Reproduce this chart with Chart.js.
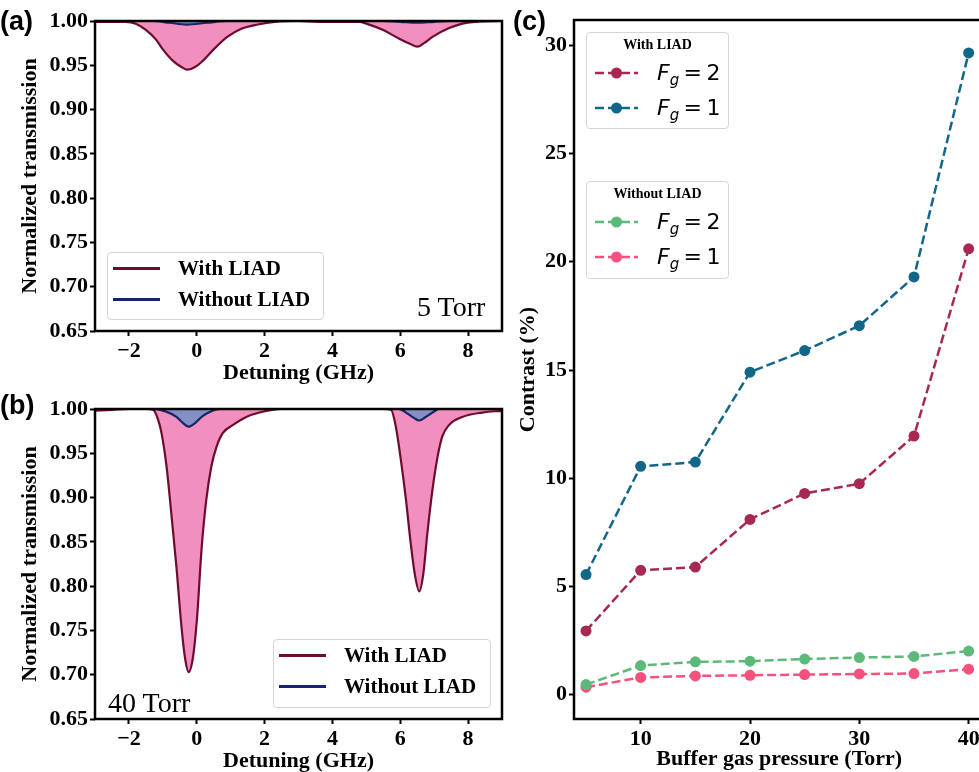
<!DOCTYPE html>
<html>
<head>
<meta charset="utf-8">
<script src="https://cdn.jsdelivr.net/npm/chart.js@4.4.1/dist/chart.umd.min.js"></script>
<style>
html, body { margin: 0; padding: 0; background: #fff; width: 979px; height: 772px; overflow: hidden; position: relative; }
canvas { position: absolute; }
.lab { position: absolute; font-family: "Liberation Sans", Arial, sans-serif; font-weight: bold; font-size: 27px; line-height: 27px; }
.note { position: absolute; font-family: "Liberation Serif", "Times New Roman", serif; font-size: 28px; line-height: 28px; }
.leg { position: absolute; box-sizing: border-box; background: rgba(255,255,255,0.85); border: 1px solid #d6d6d6; border-radius: 4px;
       font-family: "Liberation Serif", "Times New Roman", serif; font-weight: bold; }
.leg .row { display: flex; align-items: center; height: 31px; font-size: 21px; white-space: nowrap; }
.leg .sw { display: inline-block; width: 47px; height: 3px; margin-left: 5px; margin-right: 18px; }
.leg .ttl { text-align: center; font-size: 14px; height: 20px; line-height: 20px; margin-top: 2px; }
.leg .mrow { display: flex; align-items: center; height: 35px; white-space: nowrap; }
.leg .mrow svg { margin-left: 8px; margin-right: 19px; }
.math { font-family: "DejaVu Sans", sans-serif; font-weight: normal; font-size: 22px; }
.math sub { font-size: 15px; vertical-align: -5px; line-height: 0; }
</style>
</head>
<body>
<canvas id="ca" width="512" height="387" style="left:0;top:0"></canvas>
<canvas id="cb" width="512" height="387" style="left:0;top:388px"></canvas>
<canvas id="cc" width="485" height="773" style="left:505px;top:0"></canvas>

<div class="lab" style="left:0;top:8px">(a)</div>
<div class="lab" style="left:0;top:392px">(b)</div>
<div class="lab" style="left:513px;top:8px">(c)</div>
<div class="note" style="left:417px;top:293px">5 Torr</div>
<div class="note" style="left:108px;top:689px">40 Torr</div>

<div id="lega" class="leg" style="left:107px;top:252px;width:217px;height:68px"></div>
<div id="legb" class="leg" style="left:273px;top:639px;width:218px;height:69px"></div>
<div id="legc1" class="leg" style="left:586px;top:32px;width:143px;height:97px"></div>
<div id="legc2" class="leg" style="left:586px;top:181px;width:143px;height:98px"></div>

<script>
// ---- data: panel (a), 5 Torr ----
const xWith5 = [-3.0, -2.5, -2.1, -1.8, -1.5, -1.2, -1.0, -0.7, -0.45, -0.27, -0.05, 0.15, 0.5, 0.9, 1.3, 1.8, 2.3, 3.0, 3.6, 4.3, 4.8, 5.0, 5.48, 5.97, 6.3, 6.5, 6.7, 6.95, 7.44, 7.83, 8.2, 9.0];
const yWith5 = [0.999, 0.999, 0.999, 0.997, 0.990, 0.979, 0.968, 0.955, 0.948, 0.945, 0.948, 0.954, 0.968, 0.982, 0.991, 0.996, 0.999, 1.000, 0.999, 0.999, 0.999, 0.997, 0.990, 0.980, 0.974, 0.971, 0.975, 0.982, 0.992, 0.997, 0.999, 1.000];
const xWithout5 = [-3.0, -1.3, -0.8, -0.3, 0.3, 0.9, 5.5, 6.0, 6.5, 7.0, 7.5, 9.0];
const yWithout5 = [1.000, 1.000, 0.998, 0.996, 0.998, 1.000, 1.000, 0.999, 0.998, 0.999, 1.000, 1.000];

// ---- data: panel (b), 40 Torr ----
const xWith40 = [-3.0, -2.5, -2.0, -1.5, -1.28, -1.14, -1.04, -0.89, -0.74, -0.60, -0.45, -0.35, -0.24, -0.11, 0.01, 0.14, 0.28, 0.43, 0.58, 0.77, 1.07, 1.46, 1.85, 2.5, 5.5, 5.73, 5.87, 6.02, 6.17, 6.31, 6.44, 6.56, 6.68, 6.80, 6.95, 7.10, 7.24, 7.44, 7.83, 8.42, 9.0];
const yWith40 = [0.998, 0.999, 1.000, 1.000, 0.999, 0.988, 0.973, 0.935, 0.878, 0.822, 0.754, 0.720, 0.703, 0.720, 0.765, 0.841, 0.897, 0.935, 0.957, 0.973, 0.982, 0.991, 0.996, 1.000, 1.000, 0.999, 0.980, 0.942, 0.897, 0.848, 0.811, 0.794, 0.814, 0.860, 0.909, 0.946, 0.969, 0.982, 0.991, 0.996, 0.998];
const xWithout40 = [-3.0, -1.28, -0.9, -0.6, -0.4, -0.24, -0.05, 0.17, 0.4, 0.68, 5.97, 6.2, 6.4, 6.56, 6.75, 6.95, 7.15, 9.0];
const yWithout40 = [1.000, 1.000, 0.997, 0.991, 0.984, 0.980, 0.984, 0.992, 0.997, 1.000, 1.000, 0.995, 0.990, 0.987, 0.991, 0.996, 1.000, 1.000];

// ---- data: panel (c) ----
const pressure = [5, 10, 15, 20, 25, 30, 35, 40];
const withF2 = [2.95, 5.75, 5.9, 8.1, 9.3, 9.75, 11.95, 20.6];
const withF1 = [5.55, 10.55, 10.75, 14.9, 15.9, 17.05, 19.3, 29.65];
const withoutF2 = [0.47, 1.35, 1.52, 1.55, 1.65, 1.72, 1.77, 2.02];
const withoutF1 = [0.35, 0.8, 0.87, 0.9, 0.93, 0.96, 0.98, 1.18];

// ---- ticks ----
const detTicks = [-2, 0, 2, 4, 6, 8];
const transTicks = [0.65, 0.70, 0.75, 0.80, 0.85, 0.90, 0.95, 1.00];
const pressTicks = [10, 20, 30, 40];
const contrastTicks = [0, 5, 10, 15, 20, 25, 30];

const SERIF = '"Liberation Serif", "Times New Roman", serif';
const bold = size => ({ family: SERIF, size: size, weight: 'bold' });
const pts = (xs, ys) => xs.map((x, i) => ({ x: x, y: ys[i] }));
const fmtDet = v => v < 0 ? '\u2212' + Math.abs(v) : String(v);

// black box round the plot area, like matplotlib spines
const framePlugin = {
  id: 'frame',
  afterDraw(chart) {
    const { ctx, chartArea: a } = chart;
    ctx.save();
    ctx.strokeStyle = '#000';
    ctx.lineWidth = 2.5;
    ctx.strokeRect(a.left, a.top, a.right - a.left, a.bottom - a.top);
    ctx.restore();
  }
};

function axis(min, max, ticks, fmt, title, titlePad, extra) {
  return Object.assign({
    type: 'linear', min: min, max: max,
    afterBuildTicks: s => { s.ticks = ticks.map(v => ({ value: v })); },
    border: { display: false },
    grid: { drawOnChartArea: false, color: '#000', tickLength: 5, tickWidth: 2 },
    ticks: { font: bold(22), color: '#000', padding: 2, maxRotation: 0, autoSkip: false, callback: fmt },
    title: { display: true, text: title, font: bold(22), color: '#000', padding: titlePad }
  }, extra);
}

function spectrum(id, xW, yW, xWo, yWo) {
  return new Chart(document.getElementById(id), {
    type: 'line',
    data: {
      datasets: [
        { label: 'With LIAD', data: pts(xW, yW), borderColor: '#6e0b2e', backgroundColor: '#f18fbe',
          borderWidth: 2.2, fill: { value: 1 }, pointRadius: 0, cubicInterpolationMode: 'monotone', order: 1 },
        { label: 'Without LIAD', data: pts(xWo, yWo), borderColor: '#17246b', backgroundColor: '#8490c4',
          borderWidth: 2.2, fill: { value: 1 }, pointRadius: 0, cubicInterpolationMode: 'monotone', order: 0 }
      ]
    },
    options: {
      responsive: false, animation: false, devicePixelRatio: 1,
      layout: { padding: { top: 21, right: 10, left: 0, bottom: 0 } },
      plugins: { legend: { display: false }, tooltip: { enabled: false } },
      scales: {
        x: axis(-3, 9, detTicks, fmtDet, 'Detuning (GHz)', 0, { afterFit: s => { s.height = 56; } }),
        y: axis(0.65, 1.0, transTicks, v => v.toFixed(2), 'Normalized transmission', { top: 17, bottom: 0 },
                { afterFit: s => { s.width = 95; } })
      }
    },
    plugins: [framePlugin]
  });
}

function lineLegend(chart, box) {
  chart.data.datasets.forEach(ds => {
    const row = document.createElement('div');
    row.className = 'row';
    row.innerHTML = '<span class="sw" style="background:' + ds.borderColor + '"></span><span>' + ds.label + '</span>';
    box.appendChild(row);
  });
}

const chartA = spectrum('ca', xWith5, yWith5, xWithout5, yWithout5);
const chartB = spectrum('cb', xWith40, yWith40, xWithout40, yWithout40);
lineLegend(chartA, document.getElementById('lega'));
lineLegend(chartB, document.getElementById('legb'));

function contrastSet(label, ys, color, group) {
  return { label: label, group: group, data: pts(pressure, ys), borderColor: color, backgroundColor: color,
           borderWidth: 2.5, borderDash: [9, 4], pointRadius: 5.5, pointBorderWidth: 0,
           pointBackgroundColor: color, fill: false, tension: 0 };
}

const chartC = new Chart(document.getElementById('cc'), {
  type: 'line',
  data: {
    datasets: [
      contrastSet('F_g = 2', withF2, '#a8294f', 'With LIAD'),
      contrastSet('F_g = 1', withF1, '#12668a', 'With LIAD'),
      contrastSet('F_g = 2', withoutF2, '#5cb97a', 'Without LIAD'),
      contrastSet('F_g = 1', withoutF1, '#f4527d', 'Without LIAD')
    ]
  },
  options: {
    responsive: false, animation: false, devicePixelRatio: 1,
    layout: { padding: { top: 20, right: 3, left: 0, bottom: 0 } },
    plugins: { legend: { display: false }, tooltip: { enabled: false } },
    scales: {
      x: axis(3.9, 41.45, pressTicks, v => String(v), 'Buffer gas pressure (Torr)', 0,
              { afterFit: s => { s.height = 54; } }),
      y: axis(-1.12, 31.17, contrastTicks, v => String(v), 'Contrast (%)', { top: 10, bottom: 0 },
              { afterFit: s => { s.width = 69; } })
    }
  },
  plugins: [framePlugin]
});

function markerLegend(chart, box, group) {
  const t = document.createElement('div');
  t.className = 'ttl';
  t.textContent = group;
  box.appendChild(t);
  chart.data.datasets.filter(ds => ds.group === group).forEach(ds => {
    const parts = ds.label.split('_')[1].split(' = ');
    const row = document.createElement('div');
    row.className = 'mrow';
    row.innerHTML =
      '<svg width="43" height="14"><line x1="0" y1="7" x2="43" y2="7" stroke="' + ds.borderColor +
      '" stroke-width="2.5" stroke-dasharray="9 4"/><circle cx="21.5" cy="7" r="5.5" fill="' + ds.borderColor + '"/></svg>' +
      '<span class="math"><i>F</i><sub><i>' + parts[0] + '</i></sub>&thinsp;=&thinsp;' + parts[1] + '</span>';
    box.appendChild(row);
  });
}
markerLegend(chartC, document.getElementById('legc1'), 'With LIAD');
markerLegend(chartC, document.getElementById('legc2'), 'Without LIAD');
</script>
</body>
</html>
